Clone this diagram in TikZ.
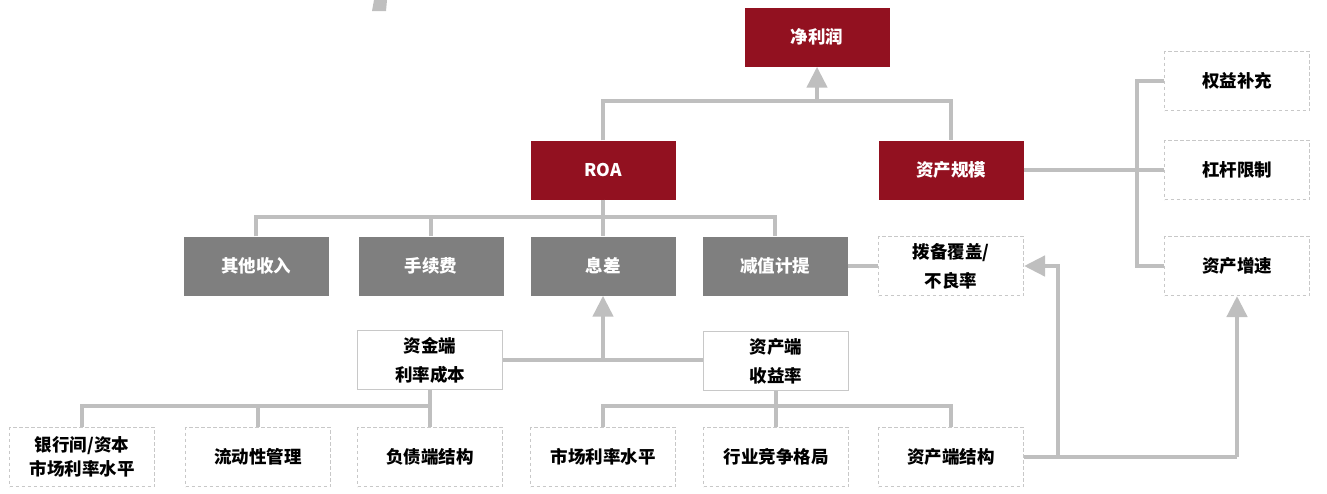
\documentclass[tikz,border=0pt]{standalone}
\usepackage{fontspec}
\setmainfont{Noto Sans CJK SC}
\usetikzlibrary{arrows.meta}
\definecolor{darkred}{HTML}{921120}
\definecolor{boxgray}{HTML}{7F7F7F}
\definecolor{linegray}{HTML}{BFBFBF}
\definecolor{dashgray}{HTML}{C8C8C8}
\tikzset{
  base/.style={minimum width=145pt, minimum height=59pt, inner sep=0pt, align=center,
    font=\fontsize{17.5}{29}\selectfont\bfseries},
  redbox/.style={base, fill=darkred, text=white},
  graybox/.style={base, fill=boxgray, text=white},
  dashbox/.style={base, draw=dashgray, line width=1pt, dash pattern=on 3.5pt off 2.5pt, text=black},
  solidbox/.style={base, draw=dashgray, line width=1pt, text=black},
  conn/.style={draw=linegray, line width=4.5pt},
  arr/.style={conn, -{Triangle[length=21pt,width=20pt]}, color=linegray}
}
\begin{document}
\begin{tikzpicture}[x=1pt,y=-1pt]
\useasboundingbox (0,0) rectangle (1327,493);
\fill[linegray] (374,0) -- (387,0) -- (386,11) -- (372,11) -- cycle;
% top
\node[redbox] (net) at (817,37) {净利润};
\node[redbox] (roa) at (603,170) {ROA};
\node[redbox] (scale) at (951,170) {资产规模};
% right column
\node[dashbox] (q1) at (1237,81) {权益补充};
\node[dashbox] (q2) at (1237,170) {杠杆限制};
\node[dashbox] (q3) at (1237,266) {资产增速};
% gray row
\node[graybox] (g1) at (256,266) {其他收入};
\node[graybox] (g2) at (431,266) {手续费};
\node[graybox] (nim) at (603,266) {息差};
\node[graybox] (g4) at (775,266) {减值计提};
\node[dashbox] (prov) at (951,266) {拨备覆盖/\\不良率};
% middle
\node[solidbox] (fund) at (430,360) {资金端\\利率成本};
\node[solidbox] (asset) at (776,361) {资产端\\收益率};
% bottom row
\node[dashbox, font=\fontsize{17.5}{24}\selectfont\bfseries] (b1) at (82,457) {银行间/资本\\市场利率水平};
\node[dashbox] (b2) at (258,457) {流动性管理};
\node[dashbox] (b3) at (430,457) {负债端结构};
\node[dashbox] (r1) at (603,457) {市场利率水平};
\node[dashbox] (r2) at (776,457) {行业竞争格局};
\node[dashbox] (r3) at (951,457) {资产端结构};
% connectors top
\coordinate (jt) at (817,101);
\draw[conn] (roa.north) |- (jt) -| (scale.north);
\draw[arr] (jt) -- (net.south);
% right tree
\coordinate (jr) at (1137,170);
\draw[conn] (scale.east) -- (q2.west);
\draw[conn] (q1.west) -| (jr);
\draw[conn] (q3.west) -| (jr);
% ROA tree
\coordinate (jg) at (603,217);
\draw[conn] (roa.south) -- (nim.north);
\draw[conn] (g1.north) |- (g4.north |- jg) -- (g4.north);
\draw[conn] (g2.north) -- (g2.north |- jg);
\draw[conn] (g4.east) -- (prov.west);
% middle
\coordinate (jm) at (603,360);
\draw[conn] (fund.east |- jm) -- (asset.west |- jm);
\draw[arr] (jm) -- (nim.south);
% bottom left tree
\coordinate (jl) at (430,406);
\draw[conn] (fund.south) -- (b3.north);
\draw[conn] (b1.north) |- (jl);
\draw[conn] (b2.north) -- (b2.north |- jl);
% bottom right tree
\coordinate (ja) at (776,406);
\draw[conn] (asset.south) -- (r2.north);
\draw[conn] (r1.north) |- (ja) -| (r3.north);
% asset structure arrows
\coordinate (jx) at (1058,457);
\coordinate (jy) at (1237,457);
\draw[conn] (r3.east) -- (jy);
\draw[arr] (jy) -- (q3.south);
\draw[arr] (jx) |- (prov.east);
\end{tikzpicture}
\end{document}
